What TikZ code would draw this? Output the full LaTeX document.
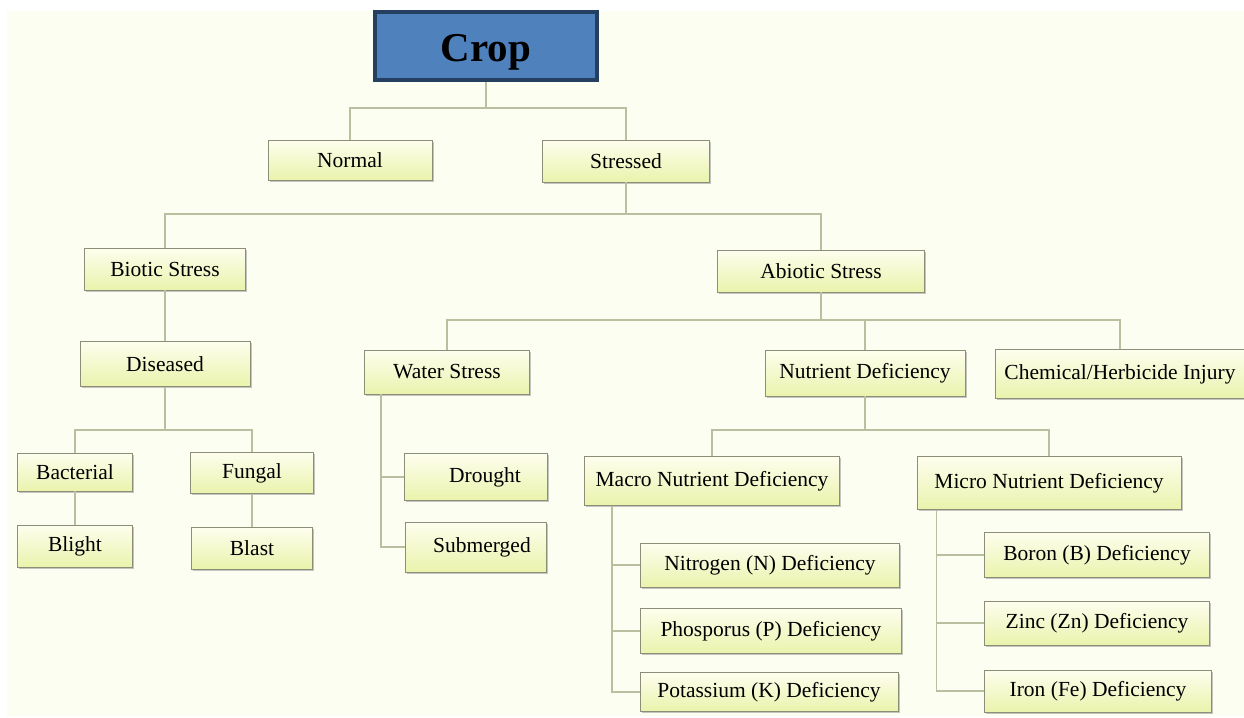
\documentclass[tikz,border=0pt]{standalone}
\usepackage{fontspec}
\setmainfont{Liberation Serif}
\usetikzlibrary{shadows}
\definecolor{paper}{RGB}{252,254,241}
\definecolor{boxtop}{RGB}{254,254,238}
\definecolor{boxbot}{RGB}{234,243,172}
\definecolor{boxline}{RGB}{140,142,120}
\definecolor{wire}{RGB}{184,192,160}
\definecolor{cropfill}{RGB}{79,129,189}
\definecolor{cropline}{RGB}{36,63,96}

\begin{document}
\begin{tikzpicture}[x=1pt, y=-1pt,
    leaf/.style={rectangle, draw=boxline, line width=0.8pt, top color=boxtop, bottom color=boxbot,
      inner sep=2pt, font=\fontsize{21.5}{25}\selectfont,
      drop shadow={shadow xshift=1.5pt, shadow yshift=-1.5pt, opacity=0.45}},
    wire/.style={draw=wire, line width=1.4pt}]
  \useasboundingbox (0,0) rectangle (1244,717);
  \fill[paper] (7,11) rectangle (1244,716);

  \node[rectangle, draw=cropline, line width=3.5pt, fill=cropfill, minimum width=222pt, minimum height=68pt,
    text height=30pt, text depth=0pt, font=\fontsize{41}{46}\selectfont\bfseries] (crop) at (486,46) {Crop};

  \node[leaf, minimum width=164pt, minimum height=40pt] (normal) at (350,160) {Normal};
  \node[leaf, minimum width=167pt, minimum height=42pt] (stressed) at (626,161) {Stressed};

  \node[leaf, minimum width=161pt, minimum height=42pt] (biotic) at (165,269) {Biotic Stress};
  \node[leaf, minimum width=207pt, minimum height=42pt] (abiotic) at (821,271) {Abiotic Stress};

  \node[leaf, minimum width=170pt, minimum height=45pt] (diseased) at (165,364) {Diseased};
  \node[leaf, minimum width=115pt, minimum height=38pt] (bacterial) at (75,472) {Bacterial};
  \node[leaf, minimum width=115pt, minimum height=42pt] (blight) at (75,546) {Blight};
  \node[leaf, minimum width=123pt, minimum height=41pt] (fungal) at (252,473) {Fungal};
  \node[leaf, minimum width=121pt, minimum height=42pt] (blast) at (252,548) {Blast};

  \node[leaf, minimum width=165pt, minimum height=44pt] (water) at (447,372) {Water Stress};
  \node[leaf, minimum width=200pt, minimum height=46pt] (nutrient) at (865,373) {Nutrient Deficiency};
  \node[leaf, minimum width=249pt, minimum height=49pt] (chemical) at (1120,374) {Chemical/Herbicide Injury};

  \node[leaf, minimum width=143pt, minimum height=47pt] (drought) at (476,477) {\hspace*{18pt}Drought};
  \node[leaf, minimum width=141pt, minimum height=50pt] (submerged) at (476,547) {\hspace*{12pt}Submerged};

  \node[leaf, minimum width=255pt, minimum height=49pt] (macro) at (712,481) {Macro Nutrient Deficiency};
  \node[leaf, minimum width=264pt, minimum height=53pt] (micro) at (1049,483) {Micro Nutrient Deficiency};

  \node[leaf, minimum width=259pt, minimum height=44pt] (nitrogen) at (770,565) {Nitrogen (N) Deficiency};
  \node[leaf, minimum width=261pt, minimum height=45pt] (phosporus) at (771,631) {Phosporus (P) Deficiency};
  \node[leaf, minimum width=258pt, minimum height=39pt] (potassium) at (769,692) {Potassium (K) Deficiency};

  \node[leaf, minimum width=225pt, minimum height=45pt] (boron) at (1097,555) {Boron (B) Deficiency};
  \node[leaf, minimum width=225pt, minimum height=44pt] (zinc) at (1097,623) {Zinc (Zn) Deficiency};
  \node[leaf, minimum width=227pt, minimum height=42pt] (iron) at (1098,691) {Iron (Fe) Deficiency};

  % junctions
  \coordinate (jcrop) at (486,108);
  \coordinate (jstress) at (626,214);
  \coordinate (jabiotic) at (821,320);
  \coordinate (jdisease) at (165,430);
  \coordinate (jnutrient) at (865,430);

  \draw[wire] (crop.south) -- (jcrop) -| (normal.north);
  \draw[wire] (jcrop) -| (stressed.north);
  \draw[wire] (stressed.south) -- (jstress) -| (biotic.north);
  \draw[wire] (jstress) -| (abiotic.north);
  \draw[wire] (biotic.south) -- (diseased.north);
  \draw[wire] (diseased.south) -- (jdisease) -| (bacterial.north);
  \draw[wire] (jdisease) -| (fungal.north);
  \draw[wire] (bacterial.south) -- (blight.north);
  \draw[wire] (fungal.south) -- (blast.north);
  \draw[wire] (abiotic.south) -- (jabiotic) -| (water.north);
  \draw[wire] (jabiotic) -| (nutrient.north);
  \draw[wire] (jabiotic) -| (chemical.north);
  \draw[wire] ([xshift=17pt]water.south west) |- (drought.west);
  \draw[wire] ([xshift=17pt]water.south west) |- (submerged.west);
  \draw[wire] (nutrient.south) -- (jnutrient) -| (macro.north);
  \draw[wire] (jnutrient) -| (micro.north);
  \draw[wire] ([xshift=28pt]macro.south west) |- (nitrogen.west);
  \draw[wire] ([xshift=28pt]macro.south west) |- (phosporus.west);
  \draw[wire] ([xshift=28pt]macro.south west) |- (potassium.west);
  \draw[wire] ([xshift=20pt]micro.south west) |- (boron.west);
  \draw[wire] ([xshift=20pt]micro.south west) |- (zinc.west);
  \draw[wire] ([xshift=20pt]micro.south west) |- (iron.west);
\end{tikzpicture}
\end{document}
